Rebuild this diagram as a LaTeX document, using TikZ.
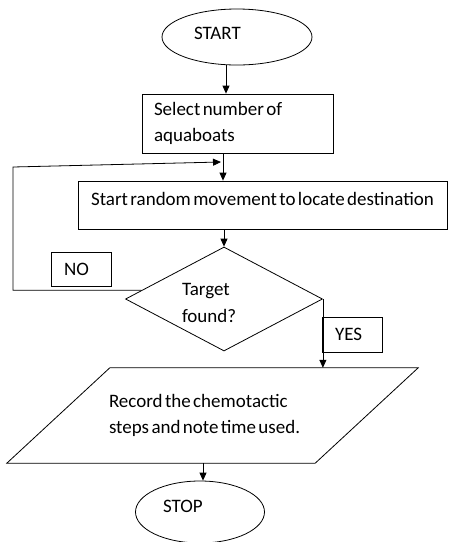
\documentclass[tikz,border=0pt]{standalone}
\usepackage{fontspec}
\setmainfont{Carlito}[WordSpace=0.55]
\usetikzlibrary{shapes.geometric, arrows.meta, calc}
\newcommand{\flowfont}{\fontsize{19}{26.5}\selectfont}

\begin{document}
\begin{tikzpicture}[x=1pt, y=-1pt,
  term/.style={draw, ellipse, line width=0.8pt, align=flush left, font=\flowfont},
  box/.style={draw, rectangle, line width=0.8pt, align=flush left, font=\flowfont},
  decision/.style={draw, diamond, aspect=1.9, inner sep=0pt, line width=0.8pt,
    align=flush left, text width=84pt, minimum width=197pt, minimum height=104pt, font=\flowfont},
  io/.style={rectangle, align=flush left, font=\flowfont},
  tag/.style={draw, rectangle, line width=0.8pt, minimum width=60pt, minimum height=34pt,
    text width=34pt, inner xsep=13pt, align=flush left, font=\flowfont},
  slant/.style={line width=0.8pt},
  arrow/.style={-{Triangle[length=8pt, width=7pt]}, line width=0.8pt}
]
  \useasboundingbox (0,0) rectangle (449,542);

  % Nodes
  \node[term, minimum width=150pt, minimum height=56pt, text width=86pt, text depth=8pt] (start) at (237,37) {START};
  \node[box, minimum width=191pt, minimum height=59pt, text width=167pt, inner xsep=12pt] (select) at (237.5,123.5) {Select number of\\aquaboats};
  \node[box, minimum width=369pt, minimum height=48pt, text height=12pt, text depth=12pt] (move) at (262.5,205) {Start random movement to locate destination};
  \node[decision, text height=20pt] (target) at (224,299) {Target\\found?};
  \node[io, minimum width=308pt, minimum height=95pt, text width=207pt] (record) at (212.5,415.5) {Record the chemotactic\\steps and note time used.};
  \node[term, minimum width=129pt, minimum height=62pt, text width=74pt, text depth=12pt] (stop) at (200,512) {STOP};
  \node[tag] (no) at (81,269) {NO};
  \node[tag, minimum height=35pt] (yes) at (352,334.5) {YES};

  % Parallelogram round the record step
  \draw[slant] ([xshift=-51.5pt]record.south west) -- ([xshift=51.5pt]record.north west)
    -- ([xshift=51.5pt]record.north east) -- ([xshift=-51.5pt]record.south east) -- cycle;

  % Loop corners
  \coordinate (loopturn) at (13,167);
  \coordinate (loopend) at (221,162);

  % Arrows
  \draw[arrow] ([xshift=-11pt]start.south) -- ([xshift=-11pt]start.south |- select.north);
  \draw[arrow] ([xshift=-14.5pt]select.south) -- ([xshift=-14.5pt]select.south |- move.north);
  \draw[arrow] (move.south -| target.north) -- (target.north);
  \draw[arrow] (target.east) -- (target.east |- record.north);
  \draw[arrow] ([xshift=3pt]stop.north |- record.south) -- ([xshift=3pt]stop.north);

  % NO loop back
  \draw[arrow] (target.174) -- (target.174 -| loopturn) -- (loopturn) -- (loopend);
\end{tikzpicture}
\end{document}
